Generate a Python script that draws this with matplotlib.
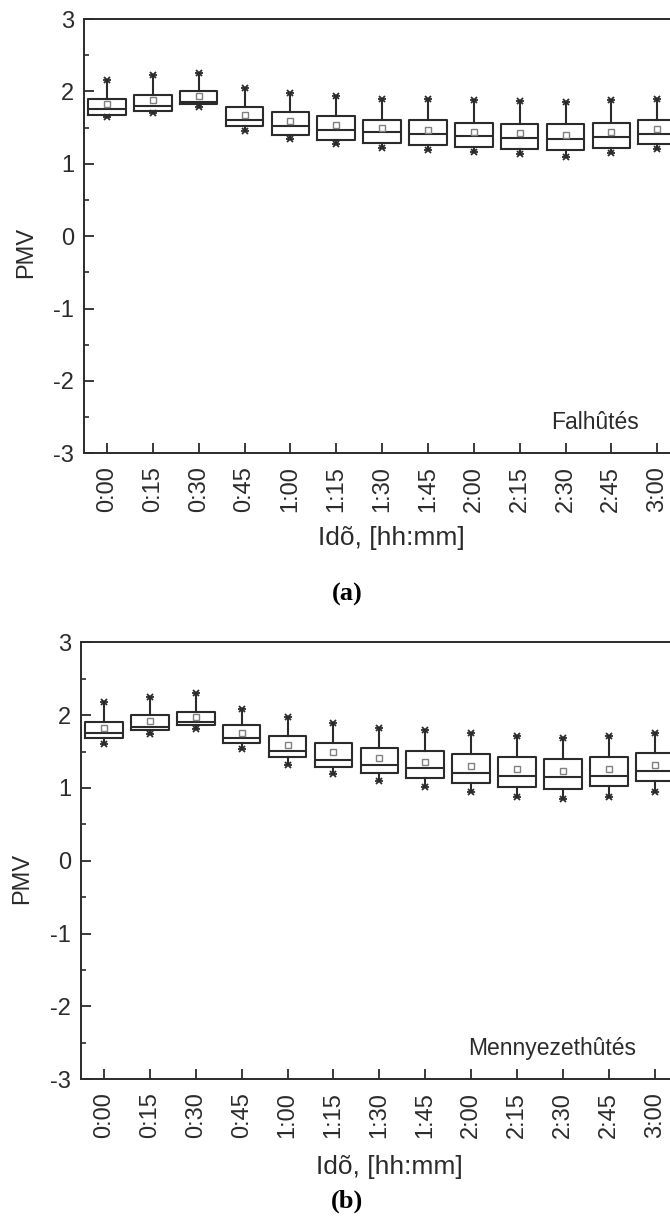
import matplotlib
matplotlib.use("Agg")
import matplotlib.pyplot as plt

plt.rcParams['font.family'] = ['Liberation Sans', 'DejaVu Sans']
plt.rcParams['axes.unicode_minus'] = False

# time steps on the x axis
times = ["0:00", "0:15", "0:30", "0:45", "1:00", "1:15", "1:30",
         "1:45", "2:00", "2:15", "2:30", "2:45", "3:00"]

# (a) wall cooling - PMV statistics per time step
a_hi = [2.16, 2.22, 2.26, 2.05, 1.98, 1.94, 1.90, 1.89, 1.88, 1.87, 1.85, 1.88, 1.90]
a_q3 = [1.90, 1.95, 2.00, 1.79, 1.71, 1.66, 1.61, 1.60, 1.56, 1.55, 1.55, 1.57, 1.61]
a_med = [1.75, 1.80, 1.86, 1.61, 1.52, 1.46, 1.44, 1.41, 1.38, 1.35, 1.34, 1.37, 1.41]
a_q1 = [1.68, 1.73, 1.82, 1.52, 1.40, 1.33, 1.29, 1.26, 1.23, 1.20, 1.19, 1.22, 1.27]
a_mean = [1.83, 1.88, 1.94, 1.68, 1.59, 1.53, 1.49, 1.47, 1.44, 1.42, 1.40, 1.44, 1.48]
a_lo = [1.64, 1.70, 1.78, 1.45, 1.34, 1.27, 1.22, 1.19, 1.16, 1.13, 1.10, 1.15, 1.20]

# (b) ceiling cooling
b_hi = [2.18, 2.25, 2.30, 2.09, 1.97, 1.89, 1.83, 1.79, 1.75, 1.71, 1.69, 1.71, 1.76]
b_q3 = [1.91, 2.00, 2.04, 1.86, 1.71, 1.62, 1.55, 1.51, 1.46, 1.42, 1.40, 1.43, 1.48]
b_med = [1.76, 1.84, 1.90, 1.68, 1.51, 1.39, 1.31, 1.27, 1.21, 1.17, 1.15, 1.17, 1.23]
b_q1 = [1.69, 1.80, 1.86, 1.62, 1.42, 1.29, 1.20, 1.13, 1.07, 1.02, 0.99, 1.03, 1.10]
b_mean = [1.83, 1.92, 1.98, 1.75, 1.59, 1.49, 1.41, 1.35, 1.30, 1.26, 1.23, 1.26, 1.31]
b_lo = [1.61, 1.74, 1.81, 1.53, 1.32, 1.19, 1.09, 1.02, 0.95, 0.88, 0.85, 0.88, 0.94]

W, H = 670, 1216
fig = plt.figure(figsize=(W / 100, H / 100), dpi=100)

ink = "#2b2b2b"


def panel(rect, lo, q1, med, q3, hi, mean, tag):
    ax = fig.add_axes(rect)
    stats = []
    for i in range(len(times)):
        stats.append(dict(whislo=lo[i], q1=q1[i], med=med[i], q3=q3[i],
                          whishi=hi[i], mean=mean[i], fliers=[]))
    pos = list(range(len(times)))
    ax.bxp(stats, positions=pos, widths=0.82, showmeans=True,
           showcaps=False, showfliers=False,
           boxprops=dict(color=ink, linewidth=1.5),
           medianprops=dict(color=ink, linewidth=1.5),
           whiskerprops=dict(color=ink, linewidth=1.5),
           meanprops=dict(marker='s', markersize=4, markerfacecolor='white',
                          markeredgecolor='#808080', markeredgewidth=1.0))
    # whisker end symbols
    for ends in (hi, lo):
        ax.plot(pos, ends, 'x', color=ink, markersize=5, mew=1.3, ls='none')
        ax.plot(pos, ends, '_', color=ink, markersize=6, mew=1.3, ls='none')

    ax.set_xlim(-0.5, 13.5)
    ax.set_ylim(-3, 3)
    ax.set_yticks([-3, -2, -1, 0, 1, 2, 3])
    ax.set_yticks([-2.5, -1.5, -0.5, 0.5, 1.5, 2.5], minor=True)
    ax.set_xticks(pos)
    ax.set_xticklabels(times, rotation=90, fontsize=17, color=ink)
    ax.tick_params(axis='y', labelsize=17, labelcolor=ink)
    ax.tick_params(which='major', direction='in', length=7, width=1.3,
                   color=ink, pad=7)
    ax.tick_params(which='minor', direction='in', length=3.5, width=1.2,
                   color=ink)
    ax.tick_params(axis='x', pad=9)
    ax.tick_params(top=False, right=False)
    for s in ax.spines.values():
        s.set_linewidth(1.4)
        s.set_color(ink)
    ax.text(11.6, -2.58, tag, ha='right', va='center', fontsize=16.5,
            color=ink)
    return ax


panel([84 / W, 1 - 453.3 / H, 642 / W, 434.3 / H],
      a_lo, a_q1, a_med, a_q3, a_hi, a_mean, "Falhûtés")
panel([81 / W, 1 - 1079.3 / H, 642.6 / W, 437 / H],
      b_lo, b_q1, b_med, b_q3, b_hi, b_mean, "Mennyezethûtés")

# axis titles and panel tags
fig.text(26 / W, 1 - 252 / H, "PMV", rotation=90, ha='center', va='center',
         fontsize=17, color=ink)
fig.text(22 / W, 1 - 878 / H, "PMV", rotation=90, ha='center', va='center',
         fontsize=17, color=ink)
fig.text(318 / W, 1 - 538 / H, "Idõ, [hh:mm]", ha='left', va='center',
         fontsize=19, color=ink)
fig.text(316 / W, 1 - 1167 / H, "Idõ, [hh:mm]", ha='left', va='center',
         fontsize=19, color=ink)
fig.text(347 / W, 1 - 594 / H, "(a)", ha='center', va='center', fontsize=19,
         fontweight='bold', family='Liberation Serif', color='black')
fig.text(347 / W, 1 - 1201 / H, "(b)", ha='center', va='center', fontsize=19,
         fontweight='bold', family='Liberation Serif', color='black')

fig.savefig("out.png", dpi=100)
